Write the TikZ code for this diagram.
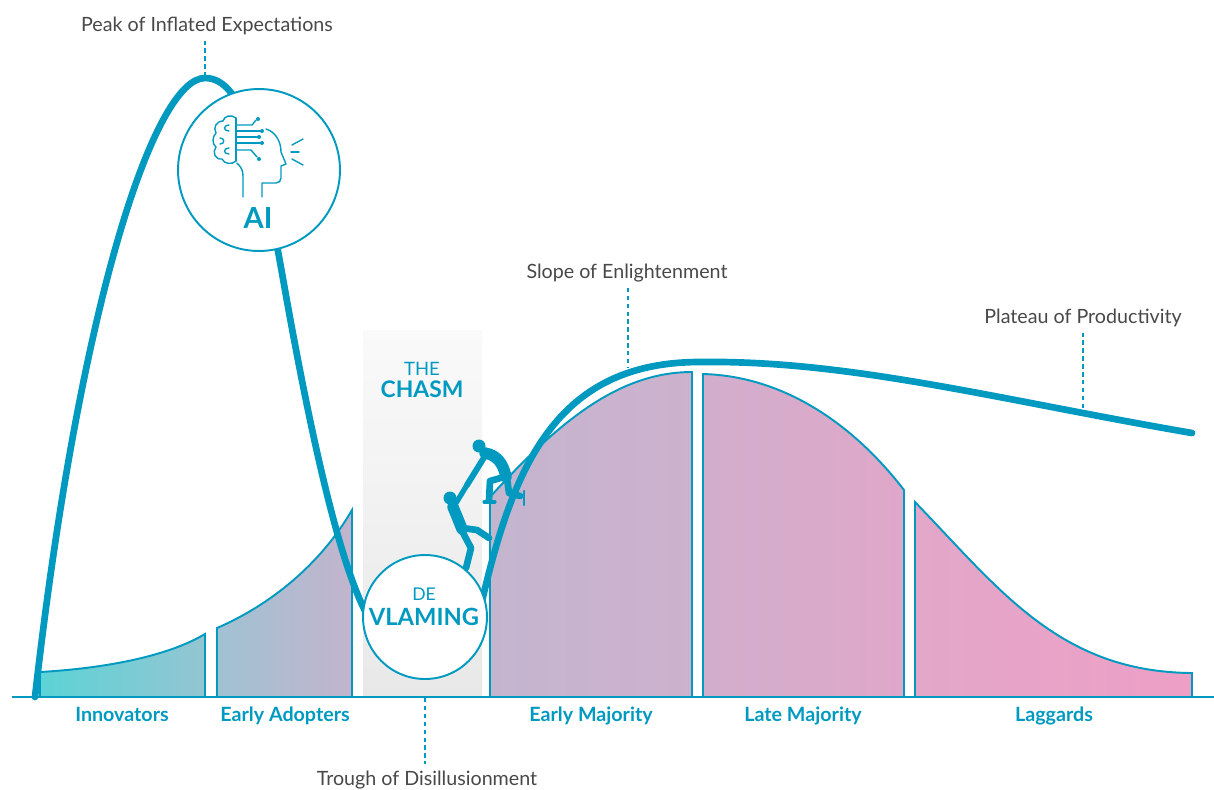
\documentclass[tikz,border=0pt]{standalone}
\usepackage{fontspec}
\setmainfont{Lato}
\usetikzlibrary{positioning}

\definecolor{hypeblue}{RGB}{0,154,193}
\definecolor{labelgray}{RGB}{72,72,72}
% fill colours of the adoption groups, left to right
\definecolor{innoA}{RGB}{92,211,214}
\definecolor{innoB}{RGB}{148,197,210}
\definecolor{adoptA}{RGB}{160,194,210}
\definecolor{adoptB}{RGB}{195,180,206}
\definecolor{earlyA}{RGB}{196,181,207}
\definecolor{earlyB}{RGB}{205,177,205}
\definecolor{lateA}{RGB}{210,174,204}
\definecolor{lateB}{RGB}{223,167,201}
\definecolor{lagA}{RGB}{226,167,201}
\definecolor{lagB}{RGB}{238,159,198}

\begin{document}
\begin{tikzpicture}[x=0.02cm, y=-0.02cm,
    stage/.style={font=\fontsize{11.2}{13}\selectfont, text=labelgray, anchor=base},
    group/.style={font=\fontsize{11.2}{13}\selectfont\bfseries, text=hypeblue, anchor=base},
    segment/.style={draw=hypeblue, line width=1.1pt},
    leader/.style={draw=hypeblue, line width=0.8pt, dash pattern=on 2.5pt off 2pt},
    hype/.style={draw=hypeblue, line width=3.8pt, line cap=round},
    badge/.style={circle, draw=hypeblue, fill=white, line width=1.1pt, inner sep=0pt},
    climber/.style={draw=hypeblue, line cap=round, line join=round},
    icon/.style={draw=hypeblue, line width=0.8pt, line cap=round, line join=round}
]
\useasboundingbox (0,0) rectangle (1214,789);

% the chasm
\shade[top color=black!2, bottom color=black!9] (363,330) rectangle (482,697);
\node[font=\fontsize{13}{15}\selectfont\bfseries, text=hypeblue, anchor=base] (chasm) at (422,397) {CHASM};
\node[font=\fontsize{10.5}{12}\selectfont, text=hypeblue, anchor=base] (the) at (422,375) {THE};

% adoption groups
\draw[segment, left color=innoA, right color=innoB] (40,697) -- (40,672)
    .. controls (110,668) and (170,655) .. (205,634) -- (205,697) -- cycle;
\draw[segment, left color=adoptA, right color=adoptB] (217,697) -- (217,628)
    .. controls (270,605) and (320,565) .. (352,510) -- (352,697) -- cycle;
\draw[segment, left color=earlyA, right color=earlyB] (490,697) -- (490,497)
    .. controls (560,420) and (620,372) .. (692,372) -- (692,697) -- cycle;
\draw[segment, left color=lateA, right color=lateB] (703,697) -- (703,374)
    .. controls (780,376) and (850,420) .. (904,490) -- (904,697) -- cycle;
\draw[segment, left color=lagA, right color=lagB] (915,697) -- (915,502)
    .. controls (1000,590) and (1060,672) .. (1192,673) -- (1192,697) -- cycle;
\draw[hypeblue, line width=1.3pt] (12,697) -- (1214,697);

% hype cycle
\draw[hype] (35,697) .. controls (80,300) and (155,78) .. (205,78)
    .. controls (245,78) and (262,160) .. (285,290)
    .. controls (310,430) and (340,570) .. (370,620)
    .. controls (395,670) and (460,670) .. (483,597)
    .. controls (515,460) and (560,362) .. (700,362)
    .. controls (850,360) and (1000,400) .. (1192,433);

% climbers
\fill[hypeblue] (479,446) circle (6.5);
\draw[climber, line width=6.5pt] (485,453) .. controls (496,455) and (503,462) .. (506,477);
\draw[climber, line width=3.4pt] (485,456) -- (467,485);
\draw[climber, line width=3.8pt] (504,477) -- (490,481) -- (489,500);
\draw[climber, line width=3.8pt] (507,478) -- (509,493) -- (520,496);
\draw[climber, line width=1.8pt] (484,502) -- (495,502);
\draw[climber, line width=1.4pt] (524,491) -- (524,505);
\fill[hypeblue] (450,498) circle (6.5);
\draw[climber, line width=6.5pt] (453,507) -- (458,519) -- (462,529);
\draw[climber, line width=3pt] (456,503) -- (467,485);
\draw[climber, line width=3.8pt] (462,528) -- (477,530) -- (489,538);
\draw[climber, line width=3.8pt] (461,529) -- (471,548) -- (466,568);

% AI badge
\node[badge, minimum size=3.24cm] (aibadge) at (259,170) {};
\node[font=\fontsize{16.5}{18}\selectfont\bfseries, text=hypeblue, anchor=base] (ailabel) at (258,228) {AI};
\draw[icon] (236,118) -- (236,161);
\draw[icon] (236,118) .. controls (231,114) and (224,116) .. (223,121)
    .. controls (216,121) and (213,128) .. (216,133)
    .. controls (212,137) and (212,144) .. (216,147)
    .. controls (212,152) and (215,160) .. (222,159)
    .. controls (224,164) and (232,165) .. (236,161);
\draw[icon] (229,125) .. controls (223,125) and (223,131) .. (229,131);
\draw[icon] (220,138) .. controls (225,138) and (225,144) .. (220,144);
\draw[icon] (229,148) .. controls (223,148) and (223,154) .. (229,154);
\draw[icon] (236,125) -- (252,125) -- (256,120);
\draw[icon] (236,131) -- (260,131);
\draw[icon] (236,137) -- (257,137);
\draw[icon] (236,143) -- (260,143);
\draw[icon] (236,150) -- (251,150) -- (257,157);
\foreach \dx/\dy in {258/119, 262/131, 259/137, 262/143, 259/159}
    \fill[hypeblue] (\dx,\dy) circle (2);
\draw[icon] (266,129) .. controls (276,132) and (281,142) .. (281,152)
    -- (286,164) -- (281,166) -- (281,178)
    .. controls (281,181) and (279,183) .. (276,183) -- (262,183) -- (262,197);
\draw[icon] (237,163) .. controls (241,167) and (243,170) .. (243,176) -- (243,197);
\draw[icon] (292,145) -- (303,139);
\draw[icon] (291,152) -- (299,152);
\draw[icon] (292,159) -- (303,165);

% De Vlaming badge
\node[badge, minimum size=2.48cm] (vlaming) at (425,617) {};
\node[font=\fontsize{13.5}{15}\selectfont\bfseries, text=hypeblue, anchor=base] (vlamingname) at (424,625) {VLAMING};
\node[font=\fontsize{10}{11}\selectfont, text=hypeblue, anchor=base] (de) at (424,600) {DE};

% phases
\coordinate (peaktop) at (205,76);
\coordinate (slopept) at (628,367);
\coordinate (plateaupt) at (1083,411);
\coordinate (troughbase) at (425,698);
\node[stage] (peak) at (207,31) {Peak of Inflated Expectations};
\node[stage] (slope) at (627,278) {Slope of Enlightenment};
\node[stage] (plateau) at (1083,323) {Plateau of Productivity};
\node[stage] (trough) at (427,785) {Trough of Disillusionment};
\draw[leader] (peak.south -| peaktop) -- (peaktop);
\draw[leader] (slope.south -| slopept) -- (slopept);
\draw[leader] (plateau.south -| plateaupt) -- (plateaupt);
\draw[leader] (troughbase) -- (troughbase |- trough.north);

% groups
\node[group] (innovators) at (122,721) {Innovators};
\node[group] (adopters) at (285,721) {Early Adopters};
\node[group] (earlymaj) at (591,721) {Early Majority};
\node[group] (latemaj) at (803,721) {Late Majority};
\node[group] (laggards) at (1054,721) {Laggards};
\end{tikzpicture}
\end{document}
